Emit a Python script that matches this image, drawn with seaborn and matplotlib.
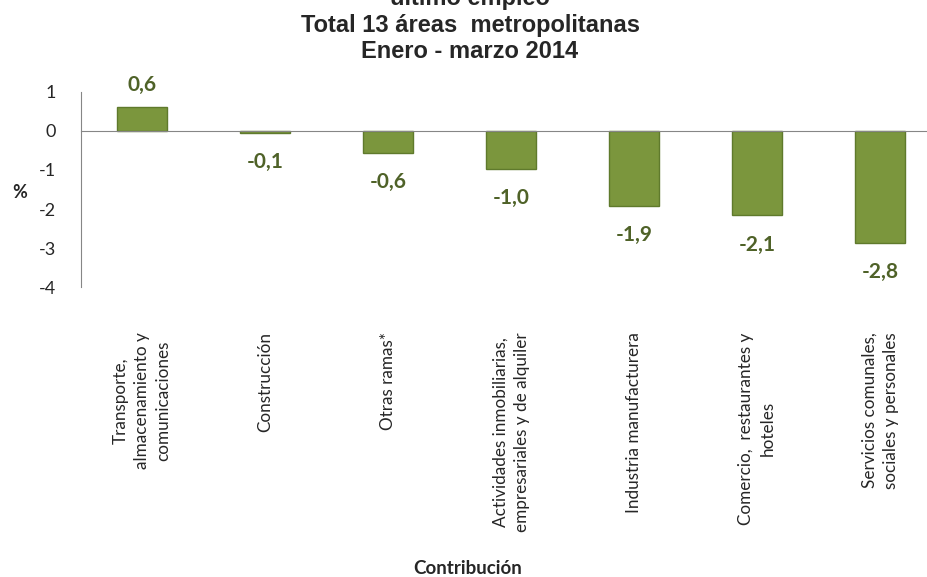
import numpy as np
import pandas as pd
import seaborn as sns
import matplotlib.pyplot as plt

# ----------------------------------------
# Data
categories = [
    "Transporte,\nalmacenamiento y\ncomunicaciones",
    "Construcción",
    "Otras ramas*",
    "Actividades inmobiliarias,\nempresariales y de alquiler",
    "Industria manufacturera",
    "Comercio,  restaurantes y\nhoteles",
    "Servicios comunales,\nsociales y personales",
]
values = [0.6, -0.05, -0.56, -0.98, -1.92, -2.16, -2.87]
value_labels = ["0,6", "-0,1", "-0,6", "-1,0", "-1,9", "-2,1", "-2,8"]
y_ticks = [1, 0, -1, -2, -3, -4]
title_lines = ["último empleo", "Total 13 áreas  metropolitanas", "Enero - marzo 2014"]
# ----------------------------------------

BAR = "#7b963d"
EDGE = "#5f7a2c"
LABEL = "#4f6228"
AXIS = "#868686"
W, H = 927, 577

sns.set_style("white")
plt.rcParams["font.family"] = ["Lato", "DejaVu Sans"]

df = pd.DataFrame({"rama": categories, "valor": values})

fig = plt.figure(figsize=(W / 100, H / 100), dpi=100)
# the category axis runs a little past the right edge, as in the original
ax = fig.add_axes([80.5 / W, 1 - 287.3 / H, 861 / W, 195.6 / H])

sns.barplot(data=df, x="rama", y="valor", order=categories, color=BAR,
            width=0.4, edgecolor=EDGE, linewidth=1.0, saturation=1, ax=ax)

ax.set_ylim(-4, 1)
ax.set_yticks(y_ticks)
ax.set_yticklabels([str(t) for t in y_ticks], fontsize=13)
ax.tick_params(axis="y", direction="out", length=5.5, width=1, color=AXIS, pad=12)

# category axis crossing at zero, labels far below
ax.spines["bottom"].set_position(("data", 0))
ax.spines["bottom"].set_color(AXIS)
ax.spines["left"].set_color(AXIS)
ax.spines["top"].set_visible(False)
ax.spines["right"].set_visible(False)
ax.set_xticks(range(len(categories)))
ax.set_xticklabels(categories, rotation=90, fontsize=12.3,
                   multialignment="center", linespacing=1.4)
ax.set_xticks(np.arange(len(categories) - 1) + 0.5, minor=True)
ax.tick_params(axis="x", which="major", length=0, pad=145)
ax.tick_params(axis="x", which="minor", direction="out", length=5, width=1, color=AXIS)

# value labels, outside the bar end
for bar, lab, v in zip(ax.patches, value_labels, values):
    x = bar.get_x() + bar.get_width() / 2
    off = 16 if v >= 0 else -21
    ax.annotate(lab, (x, v), xytext=(0, off), textcoords="offset points",
                ha="center", va="center", fontsize=15, fontweight="bold",
                color=LABEL)

ax.set_xlabel("")
ax.set_ylabel("")
fig.text(19.5 / W, 1 - 192 / H, "%", fontsize=13, fontweight="bold",
         ha="center", va="center")
fig.text(468 / W, 1 - 569 / H, "Contribución", fontsize=13.5, fontweight="bold",
         ha="center", va="center")

for line, base in zip(title_lines, [5, 32, 58]):
    fig.text(470 / W, 1 - base / H, line, fontsize=17, fontweight="bold",
             family=["Liberation Sans", "DejaVu Sans"],
             ha="center", va="baseline")

fig.savefig("out.png", dpi=100)
